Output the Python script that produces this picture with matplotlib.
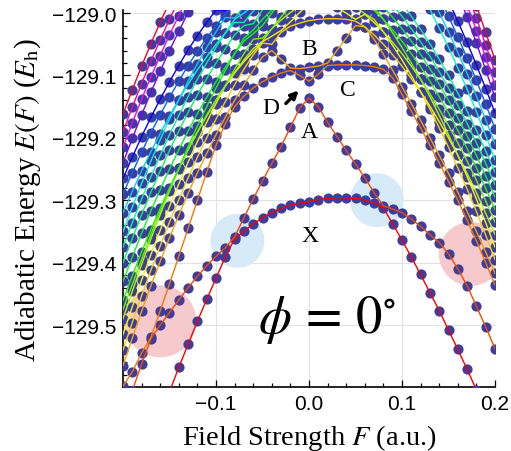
import numpy as np
import matplotlib
matplotlib.use("Agg")
import matplotlib.pyplot as plt
from matplotlib.colors import hsv_to_rgb
from matplotlib.ticker import MultipleLocator, FuncFormatter

plt.rcParams["mathtext.fontset"] = "stix"

# field grid in a.u. (step 0.01)
field = np.round(np.arange(-20, 21) * 0.01, 2)

# energies are stored relative to -129 Eh
E_REF = -129.0

# curves read over the whole field range
state_X = [-0.598, -0.575, -0.545, -0.522, -0.500, -0.480, -0.460, -0.440, -0.422, -0.405,
           -0.390, -0.376, -0.362, -0.350, -0.338, -0.328, -0.320, -0.313, -0.308, -0.305,
           -0.302,
           -0.299, -0.297, -0.296, -0.296, -0.297, -0.300, -0.304, -0.309, -0.314, -0.320,
           -0.330, -0.342, -0.355, -0.368, -0.386, -0.410, -0.437, -0.470, -0.503, -0.538]
state_A = [-0.816, -0.772, -0.729, -0.687, -0.647, -0.607, -0.568, -0.531, -0.494, -0.459,
           -0.425, -0.391, -0.359, -0.328, -0.298, -0.269, -0.241, -0.214, -0.183, -0.152,
           -0.136,
           -0.150, -0.175, -0.198, -0.220, -0.242, -0.264, -0.288, -0.312, -0.338, -0.364,
           -0.391, -0.419, -0.448, -0.477, -0.508, -0.539, -0.571, -0.604, -0.637, -0.672]
state_C = [-0.645, -0.605, -0.563, -0.520, -0.477, -0.434, -0.390, -0.345, -0.300, -0.255,
           -0.212, -0.177, -0.150, -0.133, -0.120, -0.110, -0.102, -0.096, -0.092, -0.089,
           -0.087,
           -0.085, -0.084, -0.083, -0.083, -0.083, -0.084, -0.086, -0.090, -0.104, -0.130,
           -0.157, -0.184, -0.212, -0.240, -0.270, -0.300, -0.332, -0.365, -0.400, -0.436]
state_B = [-0.475, -0.435, -0.395, -0.355, -0.318, -0.283, -0.250, -0.219, -0.190, -0.163,
           -0.139, -0.116, -0.096, -0.078, -0.062, -0.048, -0.037, -0.028, -0.021, -0.016,
           -0.012,
           -0.010, -0.009, -0.009, -0.010, -0.013, -0.022, -0.042, -0.066, -0.092, -0.118,
           -0.145, -0.172, -0.200, -0.228, -0.257, -0.287, -0.318, -0.350, -0.383, -0.417]

# upper branch of the crossing at A (the "D" gap), from F = -0.10 to 0.07
D_start = -0.10
state_D = [0.016, 0.004, -0.008, -0.020, -0.033, -0.046, -0.060, -0.074, -0.088, -0.100,
           -0.109, -0.098, -0.080, -0.060, -0.040, -0.020, -0.001, 0.018]

# fan of levels rising from the left edge (values from F = -0.20 going right)
left_fan = [
    [-0.565, -0.521, -0.478, -0.437, -0.398, -0.360, -0.324, -0.289, -0.256, -0.225, -0.195,
     -0.167, -0.140, -0.115, -0.092, -0.070, -0.050, -0.031, -0.014, 0.001, 0.015],
    [-0.540, -0.496, -0.453, -0.412, -0.373, -0.335, -0.299, -0.264, -0.231, -0.200, -0.170,
     -0.142, -0.115, -0.090, -0.067, -0.045, -0.025, -0.006, 0.011],
    [-0.515, -0.471, -0.428, -0.387, -0.348, -0.310, -0.274, -0.239, -0.206, -0.175, -0.145,
     -0.117, -0.090, -0.065, -0.042, -0.020, 0.000, 0.019],
    [-0.490, -0.446, -0.403, -0.362, -0.323, -0.285, -0.249, -0.214, -0.181, -0.150, -0.120,
     -0.092, -0.065, -0.040, -0.017, 0.005, 0.025],
    [-0.460, -0.421, -0.383, -0.347, -0.313, -0.280, -0.249, -0.219, -0.191, -0.165, -0.140,
     -0.117, -0.095, -0.075, -0.057, -0.040, -0.025, -0.011, 0.001, 0.011],
    [-0.430, -0.391, -0.353, -0.317, -0.283, -0.250, -0.219, -0.189, -0.161, -0.135, -0.110,
     -0.087, -0.065, -0.045, -0.027, -0.010, 0.005, 0.019],
    [-0.400, -0.361, -0.323, -0.287, -0.253, -0.220, -0.189, -0.159, -0.131, -0.105, -0.080,
     -0.057, -0.035, -0.015, 0.003, 0.020],
    [-0.375, -0.336, -0.298, -0.262, -0.228, -0.195, -0.164, -0.134, -0.106, -0.080, -0.055,
     -0.032, -0.010, 0.010, 0.028],
    [-0.350, -0.311, -0.273, -0.237, -0.203, -0.170, -0.139, -0.109, -0.081, -0.055, -0.030,
     -0.007, 0.015],
    [-0.320, -0.286, -0.253, -0.222, -0.193, -0.165, -0.139, -0.114, -0.091, -0.070, -0.050,
     -0.032, -0.015, 0.000, 0.013],
    [-0.290, -0.256, -0.223, -0.192, -0.163, -0.135, -0.109, -0.084, -0.061, -0.040, -0.020,
     -0.002, 0.015],
    [-0.265, -0.231, -0.198, -0.167, -0.138, -0.110, -0.084, -0.059, -0.036, -0.015, 0.005,
     0.023],
    [-0.240, -0.201, -0.163, -0.127, -0.093, -0.060, -0.029, 0.001, 0.029],
    [-0.215, -0.176, -0.138, -0.102, -0.068, -0.035, -0.004, 0.026],
    [-0.190, -0.151, -0.113, -0.077, -0.043, -0.010, 0.021],
    [-0.162, -0.123, -0.085, -0.049, -0.015, 0.018],
]

# fan of levels falling towards the right edge (values from F = +0.20 going left)
right_fan = [
    [-0.395, -0.356, -0.318, -0.282, -0.248, -0.215, -0.184, -0.154, -0.126, -0.100, -0.075,
     -0.052, -0.030, -0.010, 0.008, 0.025],
    [-0.375, -0.336, -0.298, -0.262, -0.228, -0.195, -0.164, -0.134, -0.106, -0.080, -0.055,
     -0.032, -0.010, 0.010, 0.028],
    [-0.355, -0.321, -0.288, -0.257, -0.228, -0.200, -0.174, -0.149, -0.126, -0.105, -0.085,
     -0.067, -0.050, -0.035, -0.022, -0.010, 0.000, 0.009, 0.016],
    [-0.335, -0.301, -0.268, -0.237, -0.208, -0.180, -0.154, -0.129, -0.106, -0.085, -0.065,
     -0.047, -0.030, -0.015, -0.002, 0.010, 0.020],
    [-0.315, -0.281, -0.248, -0.217, -0.188, -0.160, -0.134, -0.109, -0.086, -0.065, -0.045,
     -0.027, -0.010, 0.005, 0.018],
    [-0.295, -0.261, -0.228, -0.197, -0.168, -0.140, -0.114, -0.089, -0.066, -0.045, -0.025,
     -0.007, 0.010, 0.025],
    [-0.275, -0.241, -0.208, -0.177, -0.148, -0.120, -0.094, -0.069, -0.046, -0.025, -0.005,
     0.013],
    [-0.255, -0.221, -0.188, -0.157, -0.128, -0.100, -0.074, -0.049, -0.026, -0.005, 0.015],
    [-0.235, -0.196, -0.158, -0.122, -0.088, -0.055, -0.024, 0.006, 0.034],
    [-0.210, -0.171, -0.133, -0.097, -0.063, -0.030, 0.001, 0.031],
    [-0.185, -0.146, -0.108, -0.072, -0.038, -0.005, 0.026],
    [-0.160, -0.121, -0.083, -0.047, -0.013, 0.020],
    [-0.135, -0.091, -0.048, -0.007, 0.032],
    [-0.115, -0.071, -0.028, 0.013],
    [-0.095, -0.051, -0.008, 0.033],
    [-0.075, -0.031, 0.012],
]

# shaded markers at the crossings
circle_F = [-0.160, 0.174, -0.077, 0.073]
circle_E = [-0.494, -0.386, -0.365, -0.300]
circle_color = ["#f6cacc", "#f6cacc", "#d6eaf7", "#d6eaf7"]
circle_radius_px = [36, 32, 27, 27]

# labels of the states
label_text = ["X", "A", "B", "C", "D"]
label_F = [0.001, 0.0, 0.0, 0.042, -0.041]
label_E = [-0.356, -0.189, -0.057, -0.122, -0.152]

# hue used for the k-th lowest level (red at the bottom, round the wheel to red)
rank_hue = [0.0, 0.05, 0.08, 0.11, 0.14, 0.17, 0.21, 0.26, 0.31, 0.36,
            0.40, 0.44, 0.48, 0.53, 0.60, 0.67, 0.75, 0.83, 0.89, 0.97]

# put everything on the common field grid (nan = above the plotted window)
n = len(field)
columns = [np.array(state_X), np.array(state_A), np.array(state_C), np.array(state_B)]
col = np.full(n, np.nan)
i0 = int(round((D_start - field[0]) / 0.01))
col[i0:i0 + len(state_D)] = state_D
columns.append(col)
for vals in left_fan:
    col = np.full(n, np.nan)
    col[:len(vals)] = vals
    columns.append(col)
for vals in right_fan:
    col = np.full(n, np.nan)
    col[n - len(vals):] = vals[::-1]
    columns.append(col)
levels = np.column_stack(columns)

# adiabatic ordering: k-th lowest level at each field value
ordered = np.sort(levels, axis=1)

fig = plt.figure(figsize=(5.11, 4.52), dpi=100)
ax = fig.add_axes([0.2407, 0.1407, 0.728, 0.835])
ax.set_xlim(-0.2, 0.2)
ax.set_ylim(-129.6, -128.995)

# crossing markers
px_to_pt = 72.0 / fig.dpi
ax.scatter(circle_F, E_REF + np.array(circle_E),
           s=[(2 * r * px_to_pt) ** 2 for r in circle_radius_px],
           c=circle_color, linewidths=0, zorder=1)

# computed points
ff = np.repeat(field[:, None], levels.shape[1], axis=1)
ok = np.isfinite(levels)
ax.scatter(ff[ok], E_REF + levels[ok], s=54, c="#3d3d9e", linewidths=0, zorder=3)

# levels coloured by rank
for k in range(ordered.shape[1]):
    y = ordered[:, k]
    if not np.any(np.isfinite(y)):
        continue
    hue = rank_hue[min(k, len(rank_hue) - 1)]
    color = hsv_to_rgb((hue, 1.0, 0.97))
    ax.plot(field, E_REF + y, color=color, lw=1.0, zorder=4)

# annotations
for t, f, e in zip(label_text, label_F, label_E):
    ax.text(f, E_REF + e, t, fontsize=17, family="Liberation Serif",
            ha="center", va="center", zorder=6)
ax.annotate("", xy=(-0.009, E_REF - 0.121), xytext=(-0.027, E_REF - 0.148),
            arrowprops=dict(arrowstyle="-|>", lw=2.4, color="black", mutation_scale=11),
            zorder=6)
ax.text(0.0194, E_REF - 0.49, r"$\phi\,=\,0^{\circ}$", fontsize=38,
        ha="center", va="center", zorder=6)

# axes styling
ax.set_xticks([-0.1, 0.0, 0.1, 0.2])
ax.set_yticks([-129.5, -129.4, -129.3, -129.2, -129.1, -129.0])
ax.xaxis.set_minor_locator(MultipleLocator(0.02))
ax.yaxis.set_minor_locator(MultipleLocator(0.02))
ax.xaxis.set_major_formatter(FuncFormatter(lambda v, p: f"{v:.1f}".replace("-", "\u2212")))
ax.yaxis.set_major_formatter(FuncFormatter(lambda v, p: f"{v:.1f}".replace("-", "\u2212")))
ax.tick_params(which="both", direction="in", colors="black", width=0.9)
ax.tick_params(which="major", length=5, labelsize=15, pad=5)
ax.tick_params(which="minor", length=3)
for lab in ax.get_xticklabels() + ax.get_yticklabels():
    lab.set_family("Liberation Sans")
ax.spines["top"].set_visible(False)
ax.spines["right"].set_visible(False)
ax.spines["left"].set_linewidth(1.2)
ax.spines["bottom"].set_linewidth(1.2)
ax.set_axisbelow(True)
ax.grid(True, which="major", color="#e2e2e2", lw=0.8)

ax.set_xlabel(r"Field Strength $F$ (a.u.)", fontsize=20.5, family="Liberation Serif", labelpad=6)
ax.set_ylabel(r"Adiabatic Energy $E(F)$ ($E_\mathrm{h}$)", fontsize=21,
              family="Liberation Serif", labelpad=6)

fig.savefig("out.png", dpi=100)
